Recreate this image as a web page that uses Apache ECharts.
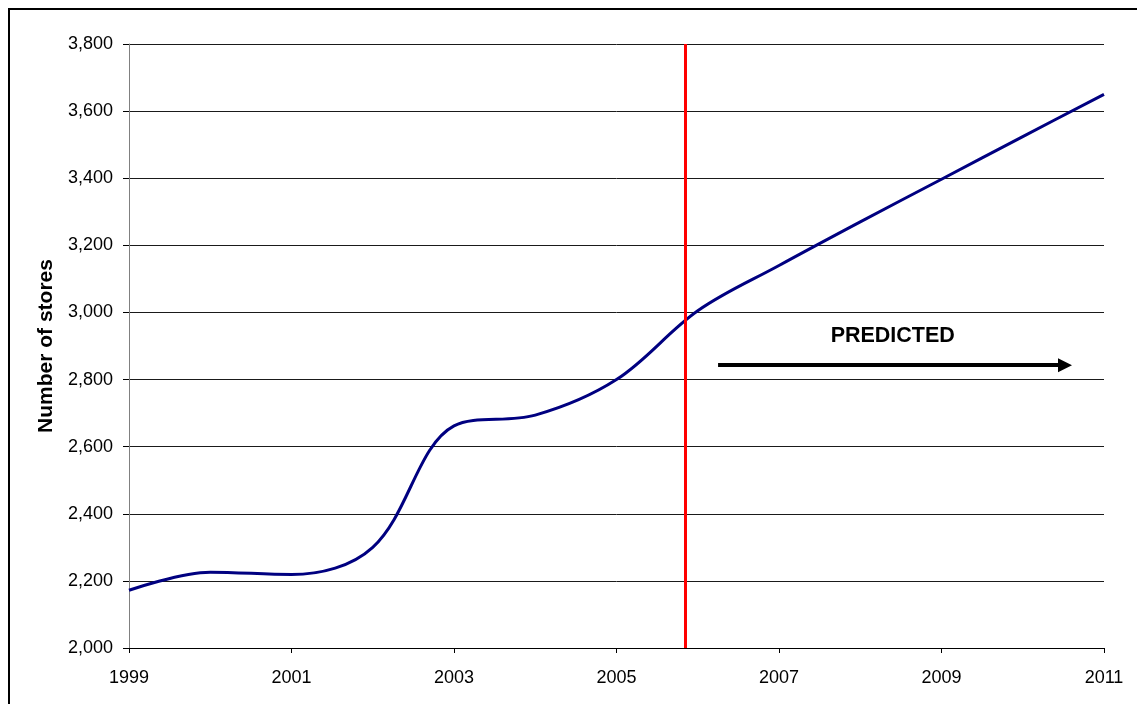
<!DOCTYPE html>
<html>
<head>
<meta charset="utf-8">
<title>Number of stores</title>
<script src="https://cdn.jsdelivr.net/npm/echarts@6/dist/echarts.min.js"></script>
<style>
  html, body { margin: 0; padding: 0; background: #fff; }
  #chart { width: 1137px; height: 704px; }
</style>
</head>
<body>
<div id="chart"></div>
<script>
// Store count per year (actuals through 2005, projection afterwards)
const years = [1999, 2000, 2001, 2002, 2003, 2004, 2005, 2006, 2007, 2008, 2009, 2010, 2011];
const stores = [2172, 2226, 2219, 2300, 2662, 2694, 2800, 3005, 3140, 3270, 3397, 3524, 3650];

// Axis ranges
const yearRange = [1999, 2011];
const yearStep = 2;
const storeRange = [2000, 3800];
const storeStep = 200;

// Annotations: forecast divider, arrow and its caption
const forecastStart = 2005.85;
const arrowStart = [2006.25, 2843];
const arrowEnd = [2010.52, 2843];
const captionText = 'PREDICTED';
const captionAt = [2008.4, 2930];

const FONT = '"Liberation Sans", Arial, sans-serif';

const chart = echarts.init(document.getElementById('chart'), null, { renderer: 'canvas' });

chart.setOption({
  animation: false,
  backgroundColor: '#fff',
  graphic: [{
    type: 'rect',
    x: 9, y: 9,
    shape: { x: 0, y: 0, width: 1300, height: 900 },
    style: { fill: 'none', stroke: '#000', lineWidth: 2 },
    silent: true,
    z: -1
  }],
  grid: { left: 129, top: 44, right: 33, bottom: 56, containLabel: false },
  xAxis: {
    type: 'value',
    min: yearRange[0],
    max: yearRange[1],
    interval: yearStep,
    axisLine: { show: true, lineStyle: { color: '#000', width: 1 } },
    axisTick: { show: true, length: 5, lineStyle: { color: '#000' } },
    axisLabel: {
      margin: 21,
      color: '#000',
      fontFamily: FONT,
      fontSize: 18,
      formatter: v => String(v)
    },
    splitLine: { show: false }
  },
  yAxis: {
    type: 'value',
    min: storeRange[0],
    max: storeRange[1],
    interval: storeStep,
    name: 'Number of stores',
    nameLocation: 'middle',
    nameGap: 72,
    nameRotate: 90,
    nameTextStyle: { color: '#000', fontFamily: FONT, fontSize: 21, fontWeight: 'bold' },
    axisLine: { show: true, lineStyle: { color: '#808080', width: 1 } },
    axisTick: { show: true, length: 6, lineStyle: { color: '#000' } },
    axisLabel: {
      margin: 16,
      color: '#000',
      fontFamily: FONT,
      fontSize: 18,
      formatter: v => v.toLocaleString('en-US')
    },
    splitLine: { show: true, lineStyle: { color: '#1a1a1a', width: 1 } }
  },
  series: [{
    type: 'line',
    data: years.map((y, i) => [y, stores[i]]),
    smooth: 0.35,
    showSymbol: false,
    symbol: 'none',
    lineStyle: { color: '#000080', width: 3 },
    markLine: {
      silent: true,
      symbol: ['none', 'none'],
      label: { show: false },
      data: [
        [
          { coord: [forecastStart, storeRange[0]], symbol: 'none', lineStyle: { color: '#ff0000', width: 3, type: 'solid' } },
          { coord: [forecastStart, storeRange[1]], symbol: 'none' }
        ],
        [
          { coord: arrowStart, symbol: 'none', lineStyle: { color: '#000', width: 4, type: 'solid' } },
          { coord: arrowEnd, symbol: 'triangle', symbolSize: [14, 14] }
        ]
      ]
    },
    markPoint: {
      silent: true,
      data: [{
        coord: captionAt,
        symbol: 'circle',
        symbolSize: 0,
        itemStyle: { color: 'transparent' },
        label: {
          show: true,
          position: 'inside',
          formatter: captionText,
          color: '#000',
          fontFamily: FONT,
          fontSize: 21.5,
          fontWeight: 'bold'
        }
      }]
    }
  }]
});
</script>
</body>
</html>
